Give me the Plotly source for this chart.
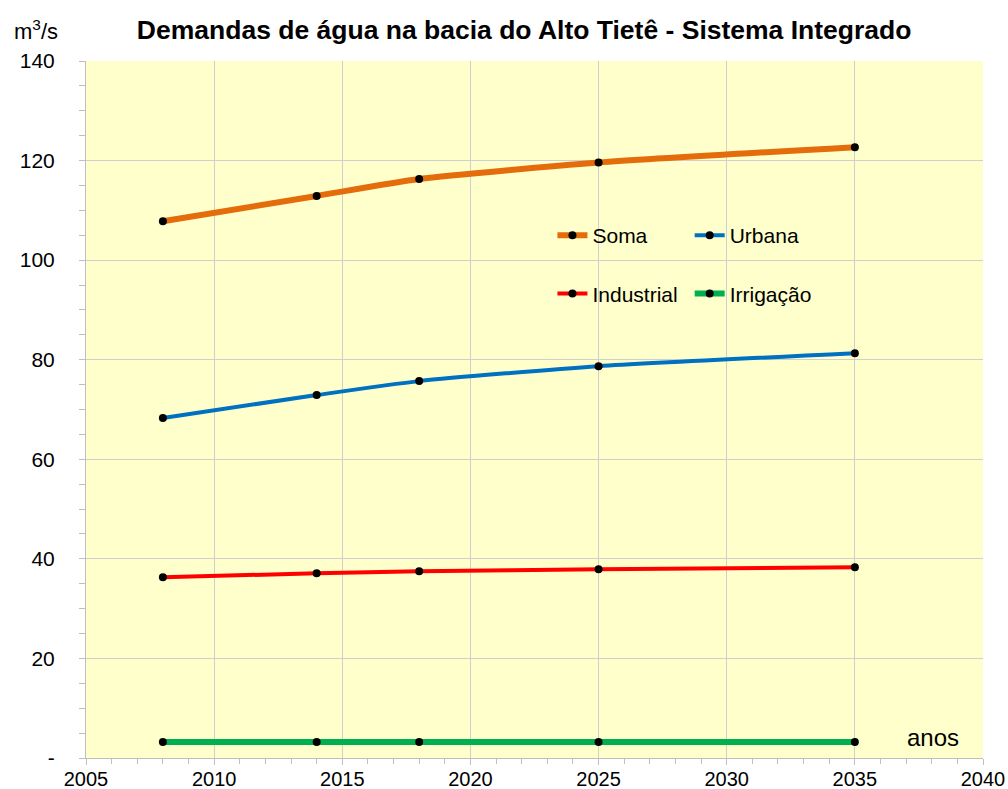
import plotly.graph_objects as go

years = [2008, 2014, 2018, 2025, 2035]
soma = [107.8, 112.9, 116.3, 119.6, 122.7]
urbana = [68.3, 72.9, 75.7, 78.7, 81.3]
industrial = [36.3, 37.1, 37.5, 37.9, 38.3]
irrigacao = [3.2, 3.2, 3.2, 3.2, 3.2]

y_tickvals = [0, 20, 40, 60, 80, 100, 120, 140]
y_ticktext = ["-", "20", "40", "60", "80", "100", "120", "140"]
x_tickvals = [2005, 2010, 2015, 2020, 2025, 2030, 2035, 2040]

series = [
    ("Soma", soma, "#E46C0A", 6, "legend", "g1"),
    ("Urbana", urbana, "#0070C0", 4, "legend2", "g1"),
    ("Industrial", industrial, "#FF0000", 4, "legend", "g2"),
    ("Irrigação", irrigacao, "#00B050", 6, "legend2", "g2"),
]

fig = go.Figure()
for name, vals, color, w, leg, grp in series:
    fig.add_trace(go.Scatter(
        x=years, y=vals, name=name, mode="lines+markers",
        line=dict(color=color, width=w, shape="spline", smoothing=0.6),
        marker=dict(color="black", size=8),
        legend=leg, legendgroup=grp,
    ))

font = "Liberation Sans, Arial, sans-serif"
legend_common = dict(
    bgcolor="rgba(0,0,0,0)", font=dict(family=font, size=21, color="black"),
    tracegroupgap=28, yanchor="top", xanchor="left", itemwidth=30,
)

fig.update_layout(
    width=1008, height=789,
    margin=dict(l=86, r=25, t=61, b=31),
    paper_bgcolor="white", plot_bgcolor="#FFFFCC",
    font=dict(family=font, size=21, color="black"),
    title=dict(text="<b>Demandas de água na bacia do Alto Tietê - Sistema Integrado</b>",
               x=0.52, xanchor="center", y=0.962, yanchor="middle",
               font=dict(size=26.5, family=font, color="black")),
    legend=dict(x=0.52, y=0.779, **legend_common),
    legend2=dict(x=0.673, y=0.779, **legend_common),
    xaxis=dict(range=[2005, 2040], tickvals=x_tickvals, showgrid=True, automargin=False,
               gridcolor="#CFCFCF", gridwidth=1, showline=True, linecolor="#BFBFBF",
               linewidth=1, ticks="outside", ticklen=6, tickcolor="#BFBFBF",
               minor=dict(dtick=1, ticks="outside", ticklen=5, tickcolor="#BFBFBF", showgrid=False),
               tickfont=dict(size=20, family=font), ticklabelstandoff=-3, zeroline=False),
    yaxis=dict(range=[0, 140], tickvals=y_tickvals, ticktext=y_ticktext, showgrid=True, automargin=False,
               gridcolor="#CFCFCF", gridwidth=1, showline=True, linecolor="#BFBFBF",
               linewidth=1, ticks="outside", ticklen=6, tickcolor="#BFBFBF",
               minor=dict(dtick=5, ticks="outside", ticklen=6, tickcolor="#BFBFBF", showgrid=False),
               tickfont=dict(size=21, family=font), ticklabelstandoff=20, zeroline=False),
    shapes=[dict(type="rect", xref="paper", yref="paper", x0=0.517, x1=0.857,
                 y0=0.628, y1=0.786, fillcolor="#FFFFCC", line=dict(width=0), layer="between")],
    annotations=[
        dict(text="m<sup>3</sup>/s", xref="paper", yref="paper", x=-0.0825, y=1.044,
             xanchor="left", yanchor="middle", showarrow=False,
             font=dict(size=22, family=font, color="black")),
        dict(text="anos", xref="paper", yref="paper", x=0.975, y=0.029,
             xanchor="right", yanchor="middle", showarrow=False,
             font=dict(size=24, family=font, color="black")),
    ],
)

fig.write_html("out.html", config={"displayModeBar": False},
               post_script="document.body.style.margin='0';document.body.style.overflow='hidden';")
